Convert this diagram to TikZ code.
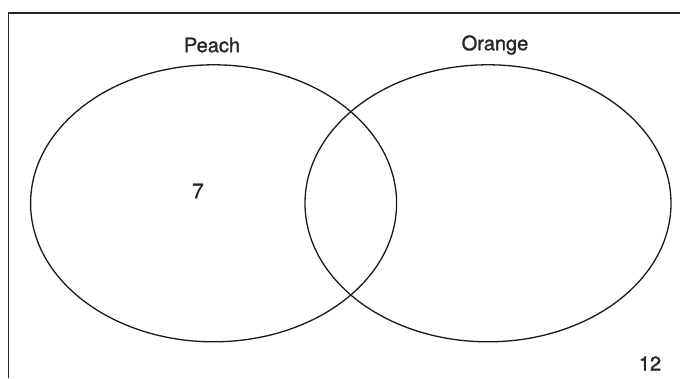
\documentclass[tikz,border=0pt]{standalone}
\usepackage{fontspec}
\setmainfont{TeX Gyre Heros}
\newfontfamily\vennfont{TeX Gyre Heros}[FakeBold=1.3]
\usetikzlibrary{shapes.geometric, positioning}

\tikzset{
  vset/.style={draw=black!90, line width=1.3pt, shape=ellipse, inner sep=0pt,
    minimum width=366pt, minimum height=277pt},
  setlabel/.style={font=\vennfont\fontsize{20}{24}\selectfont, text=black!85, inner sep=0pt},
  countlabel/.style={font=\vennfont\fontsize{21}{25}\selectfont, text=black!85, inner sep=0pt}
}

\begin{document}
\begin{tikzpicture}[x=1pt, y=-1pt]
\useasboundingbox (0,0) rectangle (680,378);
% Frame (top and left edges only)
\draw[black!85, line width=1.6pt] (8.5,378) -- (8.5,12.7) -- (680,12.7);
% Sets
\node[vset] (peach) at (213.6,203.3) {};
\node[vset] (orange) at (488,203.3) {};
% Set names
\node[setlabel] (peachname) at (212,45) {Peach};
\node[setlabel] (orangename) at (495,45) {Orange};
% Counts
\node[countlabel] (onlypeach) at (198,191) {7};
\node[setlabel] (outside) at (650,363.5) {12};
\end{tikzpicture}
\end{document}
